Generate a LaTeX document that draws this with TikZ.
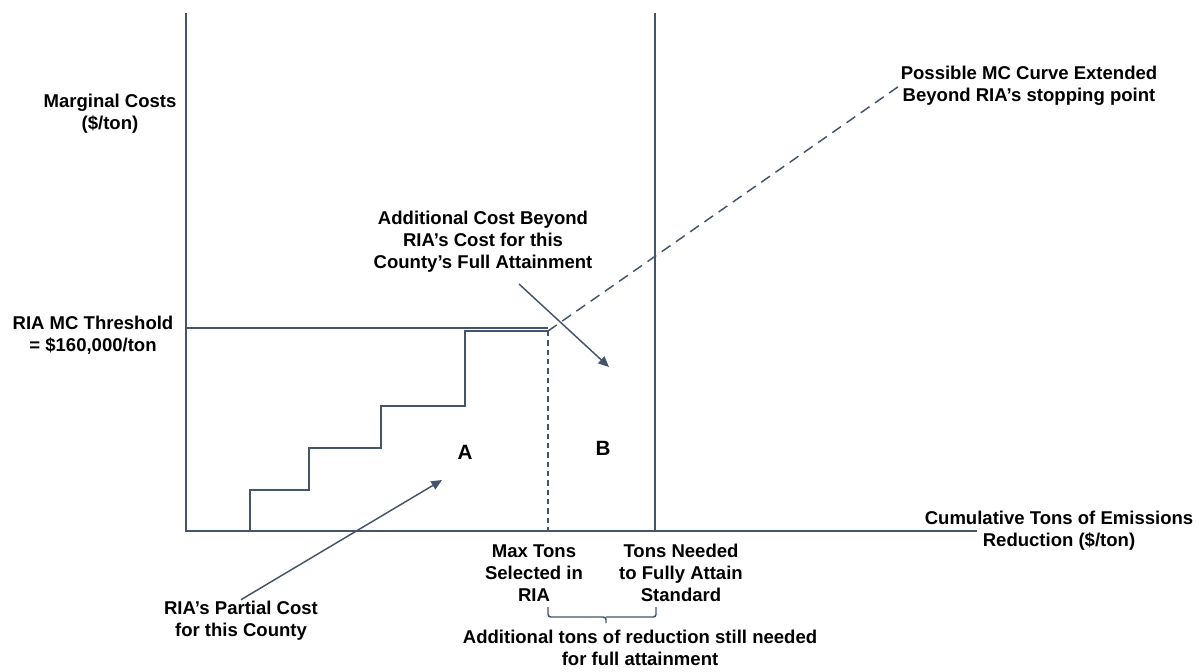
\documentclass[tikz,border=0pt]{standalone}
\usepackage{fontspec}
\setmainfont{Liberation Sans}
\usepackage{xcolor}
\usepackage{tikz}
\usetikzlibrary{arrows.meta,calc}
\definecolor{slate}{HTML}{44546A}
\tikzset{>={Triangle[length=8pt,width=7pt]}}
\tikzset{
  label/.style={align=center,inner sep=1pt,font=\fontsize{13.9}{16.6}\selectfont\bfseries},
  letter/.style={inner sep=1pt,font=\fontsize{15.5}{17}\selectfont\bfseries},
  axis/.style={draw=slate,line width=1.1pt},
  curve/.style={draw=slate,line width=1.1pt},
  pointer/.style={draw=slate,fill=slate,line width=1.1pt}
}

\begin{document}
\begin{tikzpicture}[x=0.75pt,y=-0.75pt]
  \useasboundingbox (0,0) rectangle (1199,671);
  % axes
  \coordinate (O) at (186,531);
  \coordinate (Ytop) at (186,13);
  \coordinate (Xend) at (977,531);
  \coordinate (Full) at (655,531);
  \coordinate (FullTop) at (655,13);
  \draw[axis] (Ytop) -- (O) -- (Xend);
  \draw[axis] (FullTop) -- (Full);
  % labels
  \node[label] (Ylabel) at (110,114) {Marginal Costs\\(\$/ton)};
  \node[label] (Threshold) at (93,335) {RIA MC Threshold\\= \$160,000/ton};
  \node[label] (Possible) at (1029,86) {Possible MC Curve Extended\\Beyond RIA’s stopping point};
  \node[label] (AddCost) at (483,242) {Additional Cost Beyond\\RIA’s Cost for this\\County’s Full Attainment};
  \node[label] (Xlabel) at (1059,531) {Cumulative Tons of Emissions\\Reduction (\$/ton)};
  \node[label] (MaxTons) at (534,573) {Max Tons\\Selected in\\RIA};
  \node[label] (Needed) at (681,573) {Tons Needed\\to Fully Attain\\Standard};
  \node[label] (AddTons) at (640,648) {Additional tons of reduction still needed\\for full attainment};
  \node[label] (Partial) at (241,621) {RIA’s Partial Cost\\for this County};
  \node[letter] (A) at (465,452) {A};
  \node[letter] (B) at (603,448) {B};
  % threshold and steps
  \coordinate (Stop) at (548,331);
  \draw[curve] (186,328) -- (548,328);
  \draw[curve] (250,531) |- (309,490) |- (381,448) |- (465,406) |- (Stop);
  \draw[curve,dash pattern=on 4pt off 3pt] (Stop) -- (548,531);
  \draw[curve,dash pattern=on 8pt off 5pt] (Stop) -- (Possible.west);
  % pointers
  \coordinate (Bstart) at (519,284);
  \coordinate (Btip) at (609,367);
  \coordinate (Atip) at (442,480);
  \draw[pointer,->] (Bstart) -- (Btip);
  \draw[pointer,->] (Partial.north) -- (Atip);
  % bracket
  \draw[curve,rounded corners=2pt] (548,607) |- (606,617) -- (606,623);
  \draw[curve,rounded corners=2pt] (656,607) |- (606,617);
\end{tikzpicture}
\end{document}
